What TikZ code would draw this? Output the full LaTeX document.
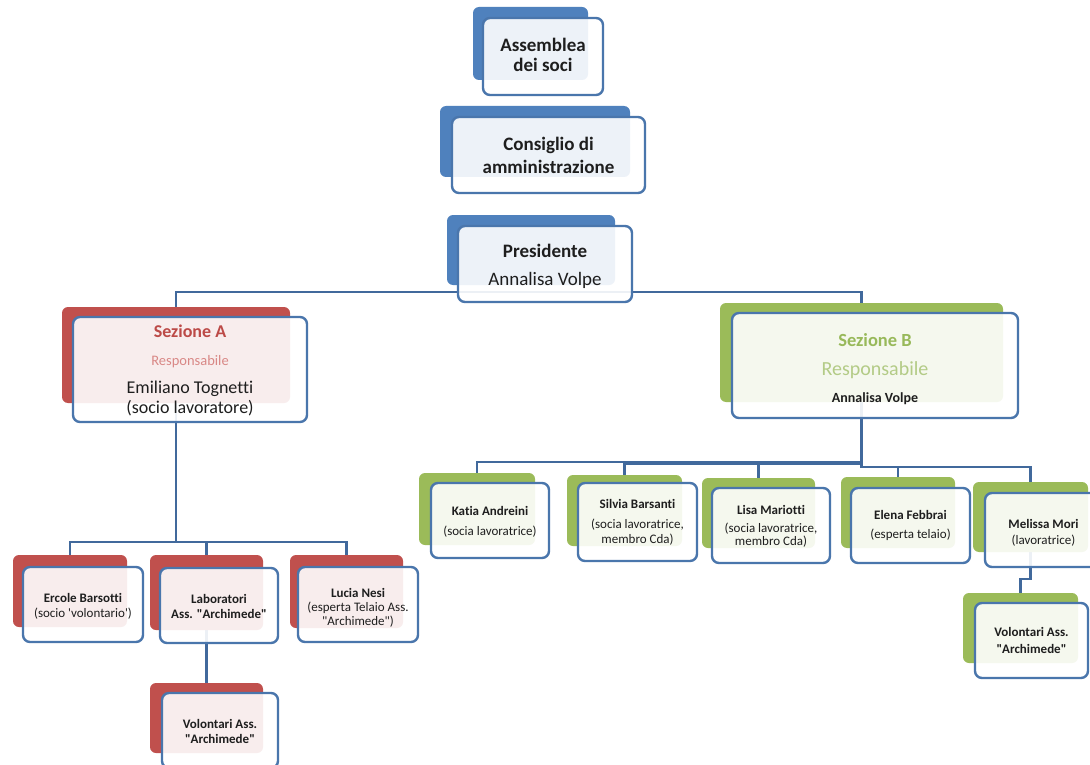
\documentclass[tikz,border=0pt]{standalone}
\usepackage{fontspec}
\defaultfontfeatures[\rmfamily,\sffamily]{}
\setmainfont{Carlito}[Ligatures=NoCommon]
\usetikzlibrary{fit,backgrounds}
\definecolor{bBlue}{HTML}{4F81BD}
\definecolor{bRed}{HTML}{C0504D}
\definecolor{bGreen}{HTML}{9BBB59}
\definecolor{edgeC}{HTML}{4A76AC}
\definecolor{lineC}{HTML}{41699C}
\definecolor{txt}{HTML}{1E1E1E}
\definecolor{redT}{HTML}{BC4A47}
\definecolor{redL}{HTML}{D98886}
\definecolor{greenT}{HTML}{98B95A}
\definecolor{greenL}{HTML}{B3CB86}
\newcommand\setfs[2]{\fontsize{#1}{#2}\selectfont}
% #1 name, #2 colour, #3/#4 back corners, #5/#6 front corners, #7 text shift down, #8 font, #9 text
\newcommand\orgbox[9]{%
  \node[backbox=#2, fit={(#3) (#4)}] (#1b) {};
  \node[front, fit={(#5) (#6)}] (#1) {};
  \node[label, font=#8, yshift=-#7pt] (#1t) at (#1.center) {#9};
}
\begin{document}
\begin{tikzpicture}[x=1pt,y=-1pt,
  backbox/.style={fill=#1, rounded corners=6pt, inner sep=0pt, draw=none},
  front/.style={draw=edgeC, line width=2.4pt, fill=white, fill opacity=0.9,
    rounded corners=7pt, inner sep=0pt},
  label/.style={align=center, inner sep=0pt, text=txt},
  conn/.style={draw=lineC, line width=2.5pt}]
\useasboundingbox (0,0) rectangle (1090,765);

% top chain
\orgbox{ass}{bBlue}{473,7}{588,80}{483,18}{603,95}{-2}{\setfs{19}{20}\bfseries}{Assemblea\\dei soci}
\orgbox{cda}{bBlue}{440,106}{630,177}{452,117}{645,193}{0}{\setfs{19}{23}\bfseries}{Consiglio di\\amministrazione}
\orgbox{pres}{bBlue}{447,215}{615,285}{458,226}{632,302}{2}{\setfs{19}{28}}{\textbf{Presidente}\\Annalisa Volpe}

% sections
\orgbox{sezA}{bRed}{62,307}{290,403}{73,317}{307,422}{1}{\setfs{18}{20}}%
  {{\bfseries\color{redT}Sezione A}\\[8pt]{\color{redL}\setfs{14.5}{20}Responsabile}\\[8pt]Emiliano Tognetti\\(socio lavoratore)}
\orgbox{sezB}{bGreen}{720,303}{1003,402}{732,313}{1018,418}{3.5}{\setfs{14}{29.5}}%
  {{\setfs{18.5}{29.5}\bfseries\color{greenT}Sezione B}\\{\setfs{20}{29.5}\color{greenL}Responsabile}\\[-3pt]\textbf{Annalisa Volpe}}

% section A children
\orgbox{ercole}{bRed}{13,555}{127,627}{23,567}{143,642}{2}{\setfs{13}{15}}{\textbf{Ercole Barsotti}\\(socio \textquotesingle volontario\textquotesingle)}
\orgbox{lab}{bRed}{150,555}{263,630}{160,568}{278,643}{1}{\setfs{13}{15}\bfseries}{Laboratori\\Ass. "Archimede"}
\orgbox{lucia}{bRed}{290,555}{403,628}{298,567}{418,642}{3}{\setfs{13}{14}}{\textbf{Lucia Nesi}\\(esperta Telaio Ass.\\"Archimede")}
\orgbox{volA}{bRed}{150,683}{263,753}{162,693}{278,768}{1}{\setfs{13}{14.5}\bfseries}{Volontari Ass.\\"Archimede"}

% section B children
\orgbox{katia}{bGreen}{419,473}{535,545}{431,483}{549,558}{1}{\setfs{13}{20}}{\textbf{Katia Andreini}\\(socia lavoratrice)}
\orgbox{silvia}{bGreen}{567,475}{682,546}{578,483}{697,561}{0}{\setfs{13}{14.5}}{\textbf{Silvia Barsanti}\\[6pt](socia lavoratrice,\\membro Cda)}
\orgbox{lisa}{bGreen}{702,478}{815,548}{712,488}{830,563}{1}{\setfs{13}{13}}{\textbf{Lisa Mariotti}\\[5pt](socia lavoratrice,\\membro Cda)}
\orgbox{elena}{bGreen}{841,477}{955,548}{851,488}{970,563}{0}{\setfs{13}{19.5}}{\textbf{Elena Febbrai}\\(esperta telaio)}
\orgbox{melissa}{bGreen}{973,482}{1088,552}{985,493}{1102,567}{3}{\setfs{13}{16}}{\textbf{Melissa Mori}\\(lavoratrice)}
\orgbox{volB}{bGreen}{963,593}{1078,663}{975,603}{1088,678}{0}{\setfs{13}{17}\bfseries}{Volontari Ass.\\"Archimede"}

\begin{scope}[on background layer]
  \fill[white] (0,0) rectangle (1090,765);
  \coordinate (busT) at (0,292);
  \coordinate (busA) at (0,542);
  \coordinate (busB) at (0,462);
  \coordinate (busB2) at (0,467);
  \coordinate (mv) at (0,579);
  \draw[conn] (sezAb.north) -- (sezAb.north |- busT) -- (sezBb.north |- busT) -- (sezBb.north);
  % section A
  \draw[conn] (sezAb.south) -- (sezAb.south |- busA);
  \draw[conn] (ercoleb.north) -- (ercoleb.north |- busA) -- (luciab.north |- busA) -- (luciab.north);
  \draw[conn] (labb.north) -- (labb.north |- busA);
  \draw[conn] (labb.south) -- (volAb.north);
  % section B
  \draw[conn] (sezBb.south) -- (sezBb.south |- busB) -- (katiab.north |- busB) -- (katiab.north);
  \draw[conn] ([yshift=-1.5pt]silviab.north |- busB) -- ([yshift=-1.5pt]sezBb.south |- busB);
  \draw[conn] (silviab.north) -- (silviab.north |- busB);
  \draw[conn] (lisab.north) -- (lisab.north |- busB);
  \draw[conn] (sezBb.south |- busB) -- (sezBb.south |- busB2) -- (elenab.north |- busB2) -- (elenab.north);
  \draw[conn] (elenab.north |- busB2) -- (melissab.north |- busB2) -- (melissab.north);
  \draw[conn] (melissab.south) -- (melissab.south |- mv) -- (volBb.north |- mv) -- (volBb.north);
\end{scope}
\end{tikzpicture}
\end{document}
